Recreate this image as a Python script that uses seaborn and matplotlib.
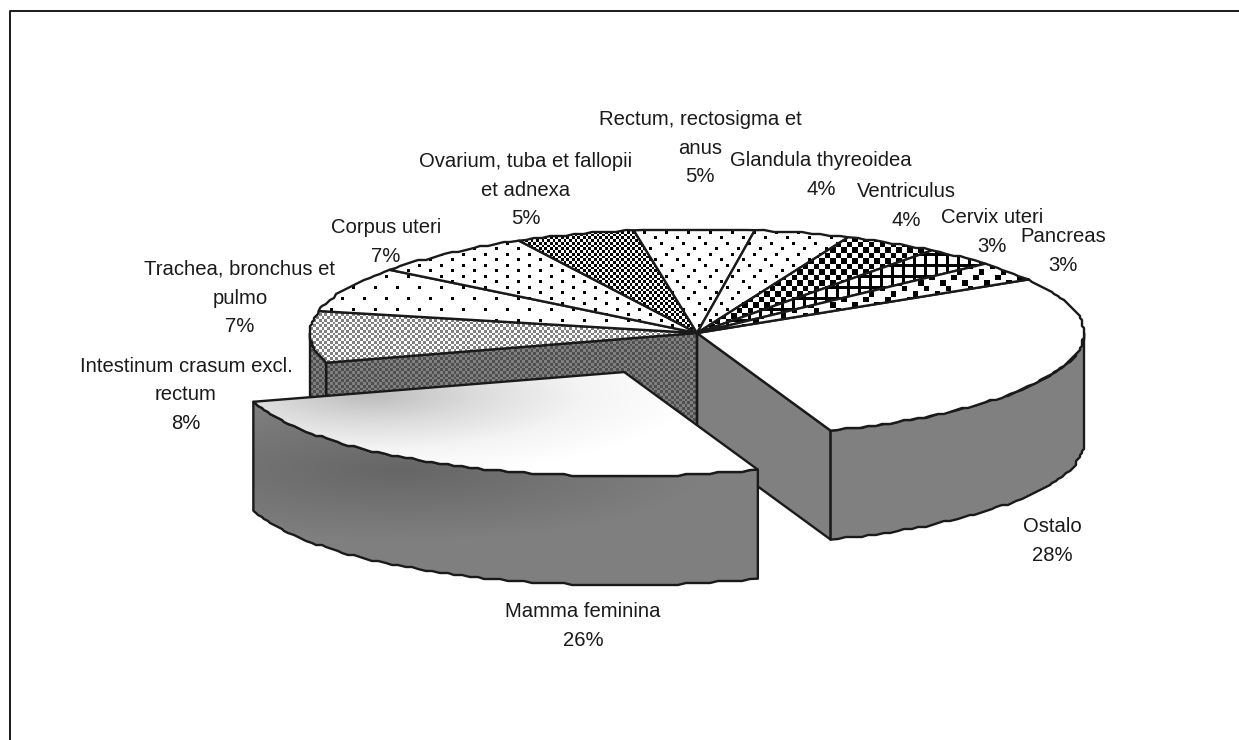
import numpy as np
import matplotlib
matplotlib.use("Agg")
import matplotlib.pyplot as plt
from matplotlib.patches import Polygon
import seaborn as sns

# %% data
categories = ["Ostalo", "Mamma feminina", "Intestinum crasum excl.\nrectum",
              "Trachea, bronchus et\npulmo", "Corpus uteri",
              "Ovarium, tuba et fallopii\net adnexa", "Rectum, rectosigma et\nanus",
              "Glandula thyreoidea", "Ventriculus", "Cervix uteri", "Pancreas"]
values = [28, 26, 8, 7, 7, 5, 5, 4, 4, 3, 3]

# %% layout (pixels)
W, H = 1239, 740
cx, cy, rx, ry = 697, 333, 387, 104
depth = 109
start_angle = 31
explode = 0.42
unit = 2.75
label_x = [1052, 583, 186, 240, 386, 526, 700, 821, 906, 992, 1063]
label_y = [541, 626, 395, 298, 242, 190, 148, 175, 206, 232, 251]

sns.set_theme(style="white")
plt.rcParams["font.family"] = ["Liberation Sans", "DejaVu Sans"]

fig = plt.figure(figsize=(W / 100, H / 100), dpi=100)
ax = fig.add_axes([0, 0, 1, 1])
ax.set_xlim(0, W)
ax.set_ylim(H, 0)
ax.axis("off")

xx, yy = np.meshgrid(np.arange(W) + .5, np.arange(H) + .5)


# %% fill patterns
def checker(cell, dark, light):
    mask = (np.floor(xx / cell) + np.floor(yy / cell)) % 2 == 0
    return np.where(mask, dark, light)


def dots(offsets, row=5.5, period=22, size=3):
    rows = np.floor(yy / row).astype(int)
    shift = np.array(offsets)[rows % len(offsets)]
    mask = ((xx - shift) % period < size) & (yy % row < size)
    return np.where(mask, 0., 1.)


def grid(period=11, line=3):
    return np.where((xx % period < line) | (yy % period < line), 0., 1.)


def confetti():
    out = np.ones((H, W))
    for ox, oy in [(0, 0), (11, 5.5), (5.5, 11), (16.5, 16.5)]:
        mask = ((xx - ox) % 22 < 5.5) & ((yy - oy) % 22 < 5.5)
        out[mask] = 0.
    return out


top_fills = [
    np.ones((H, W)),
    None,
    checker(unit, .5, 1.),
    dots([0, 11], row=11),
    dots([0, 11]),
    checker(unit, 0., 1.),
    dots([0, 11, 5.5, 16.5]),
    dots([0, 11, 5.5, 16.5]),
    checker(2 * unit, 0., 1.),
    grid(),
    confetti(),
]
side_hatch = checker(unit, .31, .5)
side_plain = np.full((H, W), .5)

# gradients of the exploded slice
d_top = np.clip(np.hypot((xx - 370) / 320, (yy - 395) / 80), 0, 1)
d_side = np.clip(np.hypot((xx - 400) / 300, (yy - 470) / 70), 0, 1)
top_cmap = sns.blend_palette(["#bdbdbd", "#dcdcdc", "#f4f4f4", "#ffffff"], as_cmap=True)
side_cmap = sns.blend_palette(["#666666", "#7f7f7f"], as_cmap=True)


# %% geometry
def arc(a0, a1, ox=0, oy=0, dz=0):
    n = max(int(abs(a1 - a0) / 1.2), 2)
    t = np.radians(np.linspace(a0, a1, n))
    x = cx + ox + rx * np.cos(t)
    y = cy + oy - ry * np.sin(t) + dz
    pts = np.column_stack([x, y])
    # coarse coordinates give the stepped outline of the original
    pts[1:-1] = np.round(pts[1:-1] / 2) * 2
    return pts


def draw(pts, img, cmap="gray", vmin=0, vmax=1, z=1):
    poly = Polygon(pts, closed=True, fc="none", ec="k", lw=1.7, joinstyle="round", zorder=z + .1)
    ax.add_patch(poly)
    im = ax.imshow(img, extent=(0, W, H, 0), cmap=cmap, vmin=vmin, vmax=vmax,
                   interpolation="nearest", aspect="auto", zorder=z)
    im.set_clip_path(poly)


fractions = np.array(values) / sum(values) * 360
edges = start_angle - np.concatenate([[0], np.cumsum(fractions)])
centre = np.array([[cx, cy]])
down = np.array([0, depth])

ax.plot([9.5, 9.5, W], [H, 10.5, 10.5], color="k", lw=1.4, zorder=0)

# walls behind the exploded slice
p = arc(edges[1], edges[1])[0:1]
draw(np.vstack([centre, p, p + down, centre + down]), side_plain, z=1)
outer = arc(0, edges[1])
draw(np.vstack([outer, (outer + down)[::-1]]), side_plain, z=2)

p = arc(edges[2], edges[2])[0:1]
draw(np.vstack([centre, p, p + down, centre + down]), side_hatch, z=1)
outer = arc(edges[2], -180)
draw(np.vstack([outer, (outer + down)[::-1]]), side_hatch, z=2)

# flat tops of the slices that stay in place
for i, fill in enumerate(top_fills):
    if fill is None:
        continue
    draw(np.vstack([centre, arc(edges[i], edges[i + 1])]), fill, z=3 + i * .2)

# exploded slice
mid = np.radians((edges[1] + edges[2]) / 2)
ox = rx * explode * np.cos(mid)
oy = -ry * explode * np.sin(mid)
outer = arc(edges[1], edges[2], ox, oy)
draw(np.vstack([outer, (outer + down)[::-1]]), d_side, cmap=side_cmap, z=6)
draw(np.vstack([centre + [ox, oy], outer]), d_top, cmap=top_cmap, z=7)

# %% labels
for name, val, x, y in zip(categories, values, label_x, label_y):
    ax.text(x, y, f"{name}\n{val}%", ha="center", va="center", fontsize=14.6,
            color="k", linespacing=1.66, zorder=10)

fig.savefig("out.png", dpi=100)
